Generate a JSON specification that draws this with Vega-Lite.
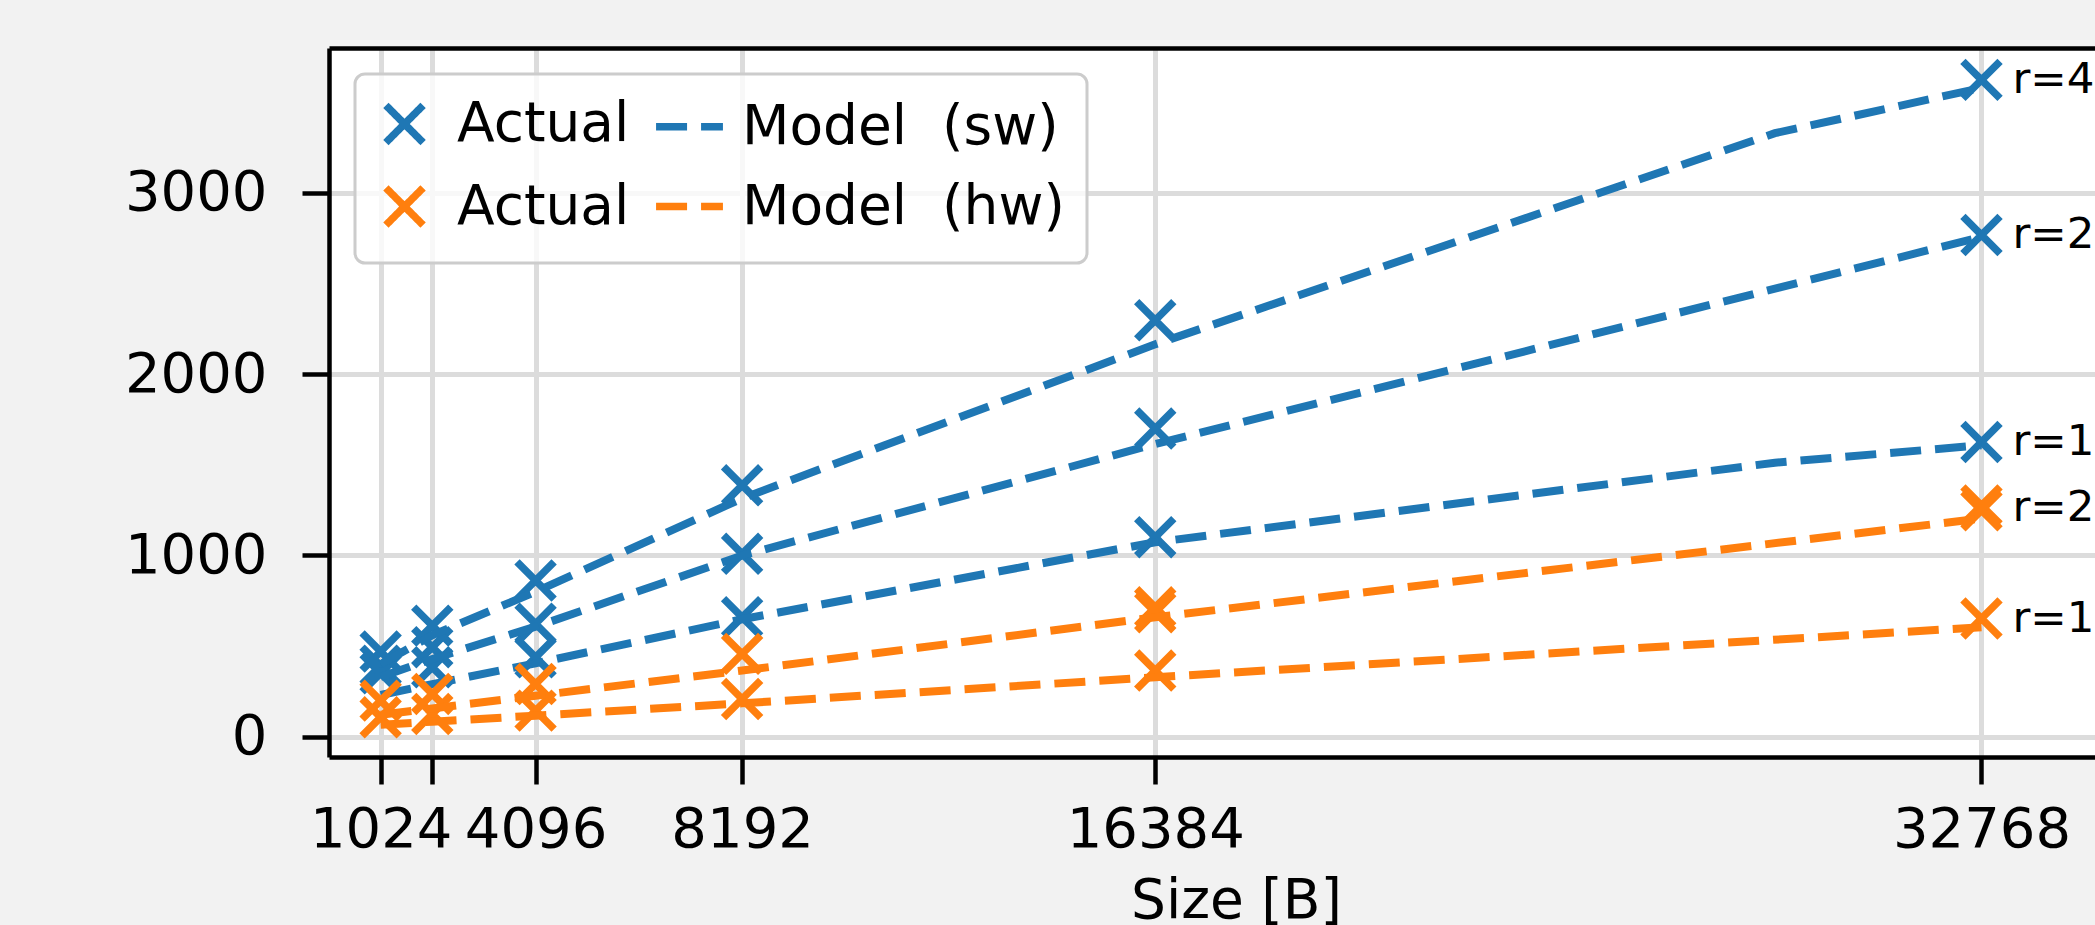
{
  "$schema": "https://vega.github.io/schema/vega-lite/v6.json",
  "autosize": {"type": "none"},
  "padding": {"left": 329, "top": 48, "right": 0, "bottom": 168},
  "width": 1766,
  "height": 709,
  "background": "#f2f2f2",
  "config": {
    "view": {"fill": "white", "stroke": null},
    "font": "DejaVu Sans",
    "axis": {
      "labelFont": "DejaVu Sans", "labelFontSize": 56, "labelColor": "black",
      "domainColor": "black", "domainWidth": 4.5,
      "tickColor": "black", "tickWidth": 4.5, "tickSize": 27,
      "gridColor": "#dcdcdc", "gridWidth": 5,
      "titleFont": "DejaVu Sans", "titleFontSize": 55, "titleFontWeight": "normal", "titleColor": "black",
      "labelFlush": false, "labelOverlap": false, "labelBound": false
    },
    "legend": {
      "orient": "top-left", "offset": 26, "columns": 2, "direction": "horizontal",
      "labelFont": "DejaVu Sans", "labelFontSize": 55, "labelColor": "black", "labelOffset": 25, "labelLimit": 0,
      "symbolSize": 1380, "symbolStrokeWidth": 7.5, "symbolOpacity": 1, "symbolFillColor": "transparent",
      "rowPadding": 14, "columnPadding": 11, "padding": 22,
      "fillColor": "rgba(255,255,255,0.8)", "strokeColor": "#cccccc", "strokeWidth": 3, "cornerRadius": 10
    }
  },
  "datasets": {
    "actual": [
      {"key": "a_sw", "series": "sw4", "size": 1024, "v": 470},
      {"key": "a_sw", "series": "sw4", "size": 2048, "v": 613},
      {"key": "a_sw", "series": "sw4", "size": 4096, "v": 862},
      {"key": "a_sw", "series": "sw4", "size": 8192, "v": 1387},
      {"key": "a_sw", "series": "sw4", "size": 16384, "v": 2298},
      {"key": "a_sw", "series": "sw4", "size": 32768, "v": 3624},
      {"key": "a_sw", "series": "sw2", "size": 1024, "v": 392},
      {"key": "a_sw", "series": "sw2", "size": 2048, "v": 494},
      {"key": "a_sw", "series": "sw2", "size": 4096, "v": 623},
      {"key": "a_sw", "series": "sw2", "size": 8192, "v": 1009},
      {"key": "a_sw", "series": "sw2", "size": 16384, "v": 1700},
      {"key": "a_sw", "series": "sw2", "size": 32768, "v": 2768},
      {"key": "a_sw", "series": "sw1", "size": 1024, "v": 350},
      {"key": "a_sw", "series": "sw1", "size": 2048, "v": 383},
      {"key": "a_sw", "series": "sw1", "size": 4096, "v": 438},
      {"key": "a_sw", "series": "sw1", "size": 8192, "v": 659},
      {"key": "a_sw", "series": "sw1", "size": 16384, "v": 1101},
      {"key": "a_sw", "series": "sw1", "size": 32768, "v": 1626},
      {"key": "a_hw", "series": "hw2", "size": 1024, "v": 199},
      {"key": "a_hw", "series": "hw2", "size": 2048, "v": 236},
      {"key": "a_hw", "series": "hw2", "size": 4096, "v": 291},
      {"key": "a_hw", "series": "hw2", "size": 8192, "v": 457},
      {"key": "a_hw", "series": "hw2", "size": 16384, "v": 714},
      {"key": "a_hw", "series": "hw2", "size": 16384, "v": 687},
      {"key": "a_hw", "series": "hw2", "size": 32768, "v": 1276},
      {"key": "a_hw", "series": "hw2", "size": 32768, "v": 1249},
      {"key": "a_hw", "series": "hw1", "size": 1024, "v": 107},
      {"key": "a_hw", "series": "hw1", "size": 2048, "v": 125},
      {"key": "a_hw", "series": "hw1", "size": 4096, "v": 144},
      {"key": "a_hw", "series": "hw1", "size": 8192, "v": 208},
      {"key": "a_hw", "series": "hw1", "size": 16384, "v": 365},
      {"key": "a_hw", "series": "hw1", "size": 32768, "v": 652}
    ],
    "model": [
      {"key": "m_sw", "series": "sw4", "size": 1024, "v": 400},
      {"key": "m_sw", "series": "sw4", "size": 2048, "v": 560},
      {"key": "m_sw", "series": "sw4", "size": 4096, "v": 800},
      {"key": "m_sw", "series": "sw4", "size": 8192, "v": 1315},
      {"key": "m_sw", "series": "sw4", "size": 16384, "v": 2165},
      {"key": "m_sw", "series": "sw4", "size": 28672, "v": 3330},
      {"key": "m_sw", "series": "sw4", "size": 32768, "v": 3580},
      {"key": "m_sw", "series": "sw2", "size": 1024, "v": 330},
      {"key": "m_sw", "series": "sw2", "size": 2048, "v": 429},
      {"key": "m_sw", "series": "sw2", "size": 4096, "v": 607},
      {"key": "m_sw", "series": "sw2", "size": 8192, "v": 1000},
      {"key": "m_sw", "series": "sw2", "size": 16384, "v": 1615},
      {"key": "m_sw", "series": "sw2", "size": 32768, "v": 2758},
      {"key": "m_sw", "series": "sw1", "size": 1024, "v": 230},
      {"key": "m_sw", "series": "sw1", "size": 2048, "v": 290},
      {"key": "m_sw", "series": "sw1", "size": 4096, "v": 405},
      {"key": "m_sw", "series": "sw1", "size": 8192, "v": 648},
      {"key": "m_sw", "series": "sw1", "size": 16384, "v": 1073},
      {"key": "m_sw", "series": "sw1", "size": 28672, "v": 1512},
      {"key": "m_sw", "series": "sw1", "size": 32768, "v": 1608},
      {"key": "m_hw", "series": "hw2", "size": 1024, "v": 121},
      {"key": "m_hw", "series": "hw2", "size": 2048, "v": 156},
      {"key": "m_hw", "series": "hw2", "size": 4096, "v": 226},
      {"key": "m_hw", "series": "hw2", "size": 8192, "v": 365},
      {"key": "m_hw", "series": "hw2", "size": 16384, "v": 659},
      {"key": "m_hw", "series": "hw2", "size": 32768, "v": 1204},
      {"key": "m_hw", "series": "hw1", "size": 1024, "v": 66},
      {"key": "m_hw", "series": "hw1", "size": 2048, "v": 83},
      {"key": "m_hw", "series": "hw1", "size": 4096, "v": 116},
      {"key": "m_hw", "series": "hw1", "size": 8192, "v": 184},
      {"key": "m_hw", "series": "hw1", "size": 16384, "v": 328},
      {"key": "m_hw", "series": "hw1", "size": 32768, "v": 604}
    ],
    "labels": [
      {"size": 32768, "v": 3624, "label": "r=4"},
      {"size": 32768, "v": 2768, "label": "r=2"},
      {"size": 32768, "v": 1626, "label": "r=1"},
      {"size": 32768, "v": 1262, "label": "r=2"},
      {"size": 32768, "v": 652, "label": "r=1"}
    ]
  },
  "resolve": {"axis": {"x": "independent"}},
  "layer": [
    {
      "data": {"name": "actual"},
      "transform": [{"filter": "datum.key == 'a_sw'"}],
      "mark": {"type": "point", "filled": false, "strokeWidth": 7.5, "size": 1380, "opacity": 1},
      "encoding": {
        "x": {"field": "size", "type": "quantitative",
              "scale": {"domain": [0, 35019], "nice": false, "zero": false},
              "axis": {"orient": "bottom", "values": [1024, 2048, 4096, 8192, 16384, 32768], "format": "d",
                       "labelExpr": "datum.value == 2048 ? '' : datum.label",
                       "labelPadding": 18, "title": "Size [B]", "titleX": 907, "titlePadding": 17, "grid": true}},
        "y": {"field": "v", "type": "quantitative",
              "scale": {"domain": [-112, 3800], "nice": false, "zero": false},
              "axis": {"values": [0, 1000, 2000, 3000], "format": "d", "labelPadding": 35, "title": null, "grid": true}},
        "color": {"field": "key", "type": "nominal",
                  "scale": {"domain": ["a_sw", "m_sw", "a_hw", "m_hw"], "range": ["#1f77b4", "#1f77b4", "#ff7f0e", "#ff7f0e"]},
                  "legend": {"title": null, "labelExpr": "(datum.value == 'a_sw' || datum.value == 'a_hw') ? 'Actual' : (datum.value == 'm_sw' ? 'Model\u00a0\u00a0(sw)' : 'Model\u00a0\u00a0(hw)')"}},
        "shape": {"field": "key", "type": "nominal",
                  "scale": {"domain": ["a_sw", "m_sw", "a_hw", "m_hw"], "range": ["M-1,-1L1,1M-1,1L1,-1", "M-1.8,0L1.8,0", "M-1,-1L1,1M-1,1L1,-1", "M-1.8,0L1.8,0"]},
                  "legend": {"title": null, "labelExpr": "(datum.value == 'a_sw' || datum.value == 'a_hw') ? 'Actual' : (datum.value == 'm_sw' ? 'Model\u00a0\u00a0(sw)' : 'Model\u00a0\u00a0(hw)')"}}
      }
    },
    {
      "data": {"name": "model"},
      "transform": [{"filter": "datum.key == 'm_sw'"}],
      "mark": {"type": "line", "strokeWidth": 8},
      "encoding": {
        "x": {"field": "size", "type": "quantitative", "axis": null},
        "y": {"field": "v", "type": "quantitative"},
        "detail": {"field": "series"},
        "color": {"field": "key", "type": "nominal"},
        "strokeDash": {"field": "key", "type": "nominal",
                       "scale": {"domain": ["a_sw", "m_sw", "a_hw", "m_hw"], "range": [[1, 0], [31, 14], [1, 0], [31, 14]]},
                       "legend": {"title": null, "labelExpr": "(datum.value == 'a_sw' || datum.value == 'a_hw') ? 'Actual' : (datum.value == 'm_sw' ? 'Model\u00a0\u00a0(sw)' : 'Model\u00a0\u00a0(hw)')"}}
      }
    },
    {
      "data": {"name": "actual"},
      "transform": [{"filter": "datum.key == 'a_hw'"}],
      "mark": {"type": "point", "filled": false, "strokeWidth": 7.5, "size": 1380, "opacity": 1},
      "encoding": {
        "x": {"field": "size", "type": "quantitative", "axis": null},
        "y": {"field": "v", "type": "quantitative"},
        "color": {"field": "key", "type": "nominal"},
        "shape": {"field": "key", "type": "nominal"}
      }
    },
    {
      "data": {"name": "model"},
      "transform": [{"filter": "datum.key == 'm_hw'"}],
      "mark": {"type": "line", "strokeWidth": 8},
      "encoding": {
        "x": {"field": "size", "type": "quantitative", "axis": null},
        "y": {"field": "v", "type": "quantitative"},
        "detail": {"field": "series"},
        "color": {"field": "key", "type": "nominal"},
        "strokeDash": {"field": "key", "type": "nominal"}
      }
    },
    {
      "data": {"name": "labels"},
      "mark": {"type": "text", "align": "left", "baseline": "middle", "dx": 31, "fontSize": 43.5, "font": "DejaVu Sans", "color": "black"},
      "encoding": {
        "x": {"field": "size", "type": "quantitative",
              "axis": {"orient": "top", "labels": false, "ticks": false, "grid": false, "domain": true, "title": null}},
        "y": {"field": "v", "type": "quantitative"},
        "text": {"field": "label"}
      }
    }
  ]
}
